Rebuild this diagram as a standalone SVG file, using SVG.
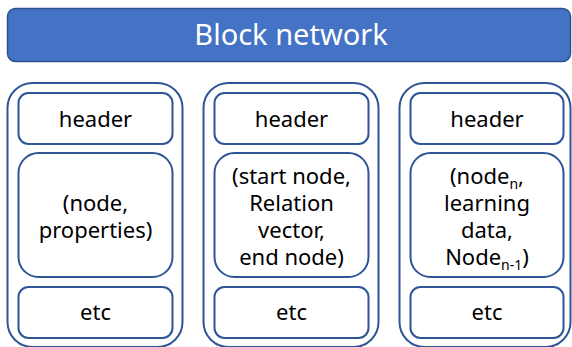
<svg xmlns="http://www.w3.org/2000/svg" width="572" height="347" viewBox="0 0 572 347">
  <style>
    .outer { fill: #FFFFFF; stroke: #2F5597; stroke-width: 2; }
    .cell { fill: #FFFFFF; stroke: #2F5597; stroke-width: 2; }
    .lbl { font-family: "Noto Sans", "Open Sans", "Noto Sans CJK KR", sans-serif; font-size: 22px; fill: #000000; text-anchor: middle; }
    .title { font-family: "Noto Sans", "Open Sans", "Noto Sans CJK KR", sans-serif; font-size: 29px; fill: #FFFFFF; text-anchor: middle; }
    .sub { font-size: 14px; }
  </style>

  <!-- title bar -->
  <g id="block-network">
    <rect x="7.5" y="8.5" width="563" height="53" rx="8" fill="#4472C4" stroke="#2F528F" stroke-width="1.5"/>
    <text class="title" x="291" y="45">Block network</text>
  </g>

  <!-- block 1 -->
  <g id="block1">
    <rect class="outer" x="7.5" y="83" width="175" height="264" rx="25"/>
    <g id="block1-header">
      <rect class="cell" x="18.5" y="93" width="154" height="51" rx="10"/>
      <text class="lbl" x="95.5" y="127">header</text>
    </g>
    <g id="block1-body">
      <rect class="cell" x="18.5" y="153" width="154" height="124" rx="20"/>
      <text class="lbl" x="95.5" y="211">(node,</text>
      <text class="lbl" x="95.5" y="238">properties)</text>
    </g>
    <g id="block1-etc">
      <rect class="cell" x="18.5" y="287" width="154" height="51" rx="10"/>
      <text class="lbl" x="95.5" y="320">etc</text>
    </g>
  </g>

  <!-- block 2 -->
  <g id="block2">
    <rect class="outer" x="203.5" y="83" width="175" height="264" rx="25"/>
    <g id="block2-header">
      <rect class="cell" x="214.5" y="93" width="154" height="51" rx="10"/>
      <text class="lbl" x="291.5" y="127">header</text>
    </g>
    <g id="block2-body">
      <rect class="cell" x="214.5" y="153" width="154" height="124" rx="20"/>
      <text class="lbl" x="291.5" y="184">(start node,</text>
      <text class="lbl" x="291.5" y="211">Relation</text>
      <text class="lbl" x="291.5" y="238">vector,</text>
      <text class="lbl" x="291.5" y="265">end node)</text>
    </g>
    <g id="block2-etc">
      <rect class="cell" x="214.5" y="287" width="154" height="51" rx="10"/>
      <text class="lbl" x="291.5" y="320">etc</text>
    </g>
  </g>

  <!-- block 3 (right edge sits at the canvas border) -->
  <g id="block3">
    <rect class="outer" x="399.5" y="83" width="171" height="264" rx="25"/>
    <g id="block3-header">
      <rect class="cell" x="410.5" y="93" width="153" height="51" rx="10"/>
      <text class="lbl" x="487" y="127">header</text>
    </g>
    <g id="block3-body">
      <rect class="cell" x="410.5" y="153" width="153" height="124" rx="20"/>
      <text class="lbl" x="487" y="184">(node<tspan class="sub" dy="5">n</tspan><tspan dy="-5">,</tspan></text>
      <text class="lbl" x="487" y="211">learning</text>
      <text class="lbl" x="487" y="238">data,</text>
      <text class="lbl" x="487" y="265">Node<tspan class="sub" dy="5">n-1</tspan><tspan dy="-5">)</tspan></text>
    </g>
    <g id="block3-etc">
      <rect class="cell" x="410.5" y="287" width="153" height="51" rx="10"/>
      <text class="lbl" x="487" y="320">etc</text>
    </g>
  </g>

  <!-- no connectors in this figure -->
  <g id="connectors"/>
</svg>
